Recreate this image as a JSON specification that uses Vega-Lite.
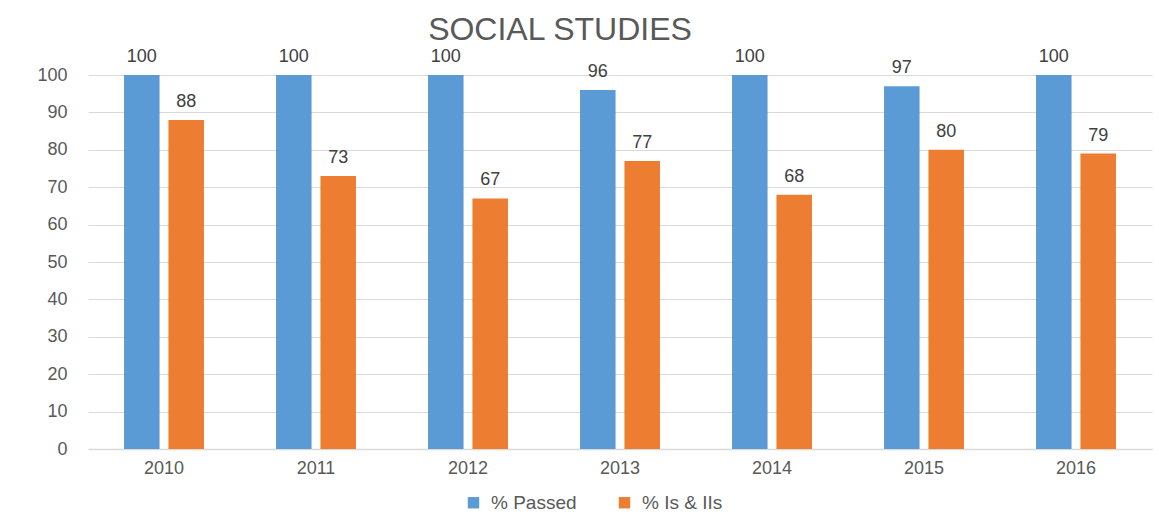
{
  "$schema": "https://vega.github.io/schema/vega-lite/v6.json",
  "width": 1064,
  "height": 374,
  "autosize": "none",
  "padding": {"left": 88, "top": 75, "right": 7, "bottom": 70},
  "background": "white",
  "title": {
    "text": "SOCIAL STUDIES",
    "frame": "group",
    "anchor": "middle",
    "offset": 0,
    "dy": -1,
    "fontSize": 32,
    "fontWeight": "normal",
    "font": "Liberation Sans",
    "color": "#595959",
    "dx": -60
  },
  "data": {
    "values": [
      {"year": "2010", "series": "% Passed", "value": 100},
      {"year": "2010", "series": "% Is & IIs", "value": 88},
      {"year": "2011", "series": "% Passed", "value": 100},
      {"year": "2011", "series": "% Is & IIs", "value": 73},
      {"year": "2012", "series": "% Passed", "value": 100},
      {"year": "2012", "series": "% Is & IIs", "value": 67},
      {"year": "2013", "series": "% Passed", "value": 96},
      {"year": "2013", "series": "% Is & IIs", "value": 77},
      {"year": "2014", "series": "% Passed", "value": 100},
      {"year": "2014", "series": "% Is & IIs", "value": 68},
      {"year": "2015", "series": "% Passed", "value": 97},
      {"year": "2015", "series": "% Is & IIs", "value": 80},
      {"year": "2016", "series": "% Passed", "value": 100},
      {"year": "2016", "series": "% Is & IIs", "value": 79}
    ]
  },
  "encoding": {
    "x": {
      "field": "year",
      "type": "nominal",
      "scale": {"paddingInner": 0.474, "paddingOuter": 0.237},
      "axis": {
        "title": null,
        "labelAngle": 0,
        "ticks": false,
        "domainColor": "#d9d9d9",
        "domainWidth": 1.5,
        "labelFontSize": 18,
        "labelColor": "#595959",
        "labelFont": "Liberation Sans",
        "labelPadding": 10
      }
    },
    "xOffset": {
      "field": "series",
      "type": "nominal",
      "sort": ["% Passed", "% Is & IIs"],
      "scale": {"paddingInner": 0.2}
    },
    "y": {
      "field": "value",
      "type": "quantitative",
      "scale": {"domain": [0, 100], "nice": false},
      "axis": {
        "title": null,
        "values": [0, 10, 20, 30, 40, 50, 60, 70, 80, 90, 100],
        "labelOverlap": false,
        "domain": false,
        "ticks": false,
        "gridColor": "#d9d9d9",
        "gridWidth": 1.2,
        "labelFontSize": 18,
        "labelColor": "#595959",
        "labelFont": "Liberation Sans",
        "labelPadding": 21
      }
    }
  },
  "layer": [
    {
      "mark": {"type": "bar"},
      "encoding": {
        "color": {
          "field": "series",
          "type": "nominal",
          "sort": ["% Passed", "% Is & IIs"],
          "scale": {"domain": ["% Passed", "% Is & IIs"], "range": ["#5b9bd5", "#ed7d31"]},
          "legend": {
            "title": null,
            "orient": "none",
            "legendX": 376,
            "legendY": 418,
            "direction": "horizontal",
            "symbolType": "square",
            "symbolSize": 130,
            "symbolStrokeWidth": 0,
            "labelFontSize": 19,
            "labelColor": "#595959",
            "labelFont": "Liberation Sans",
            "labelOffset": 8,
            "columnPadding": 38
          }
        }
      }
    },
    {
      "mark": {"type": "text", "baseline": "bottom", "dy": -9, "fontSize": 18, "font": "Liberation Sans", "color": "#404040"},
      "encoding": {
        "text": {"field": "value", "type": "quantitative"}
      }
    }
  ],
  "config": {
    "view": {"stroke": null}
  }
}
